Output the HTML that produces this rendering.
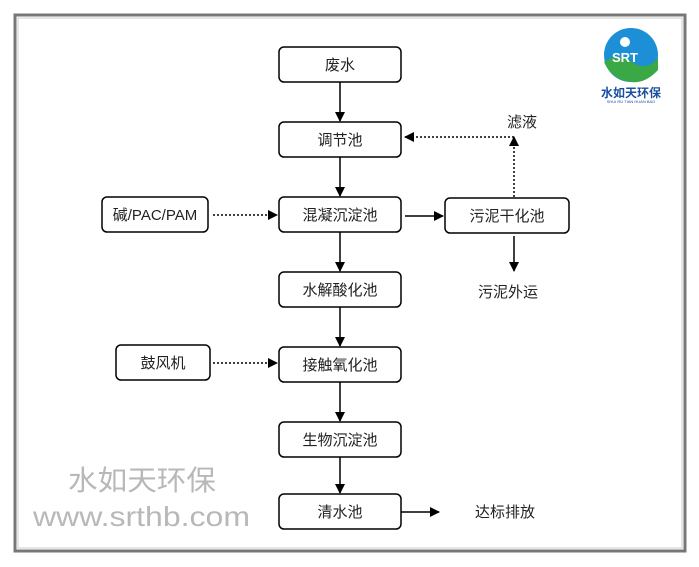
<!DOCTYPE html>
<html><head><meta charset="utf-8"><style>
html,body{margin:0;padding:0;background:#fff;width:699px;height:567px;overflow:hidden}
svg{display:block}
text{font-family:"Liberation Sans","Noto Sans CJK SC",sans-serif;font-size:15px;fill:#222}
</style></head><body>
<svg width="699" height="567" viewBox="0 0 699 567">
<defs>
<marker id="a" markerWidth="10" markerHeight="10" refX="9" refY="5" orient="auto" markerUnits="userSpaceOnUse"><path d="M0,0 L10,5 L0,10 z" fill="#000"/></marker>
</defs>
<rect x="15" y="15" width="670" height="536" fill="none" stroke="#777" stroke-width="3"/>
<rect x="18" y="18" width="664" height="530" fill="none" stroke="#ccc" stroke-width="1"/>
<g fill="#fff" stroke="#000" stroke-width="1.5">
<rect x="279" y="47" width="122" height="35" rx="5"/>
<rect x="279" y="122" width="122" height="35" rx="5"/>
<rect x="279" y="197" width="122" height="35" rx="5"/>
<rect x="279" y="272" width="122" height="35" rx="5"/>
<rect x="279" y="347" width="122" height="35" rx="5"/>
<rect x="279" y="422" width="122" height="35" rx="5"/>
<rect x="279" y="494" width="122" height="35" rx="5"/>
<rect x="102" y="197" width="106" height="35" rx="5"/>
<rect x="116" y="345" width="94" height="35" rx="5"/>
<rect x="445" y="198" width="124" height="35" rx="5"/>
</g>
<g text-anchor="middle">
<text x="340" y="70">废水</text>
<text x="340" y="145">调节池</text>
<text x="340" y="220">混凝沉淀池</text>
<text x="340" y="295">水解酸化池</text>
<text x="340" y="370">接触氧化池</text>
<text x="340" y="445">生物沉淀池</text>
<text x="340" y="517">清水池</text>
<text x="155" y="220">碱/PAC/PAM</text>
<text x="163" y="368">鼓风机</text>
<text x="507" y="221">污泥干化池</text>
<text x="522" y="127">滤液</text>
<text x="508" y="297">污泥外运</text>
<text x="505" y="517">达标排放</text>
</g>
<g stroke="#000" stroke-width="1.5" fill="none">
<line x1="340" y1="82" x2="340" y2="121" marker-end="url(#a)"/>
<line x1="340" y1="157" x2="340" y2="196" marker-end="url(#a)"/>
<line x1="340" y1="232" x2="340" y2="271" marker-end="url(#a)"/>
<line x1="340" y1="307" x2="340" y2="346" marker-end="url(#a)"/>
<line x1="340" y1="382" x2="340" y2="421" marker-end="url(#a)"/>
<line x1="340" y1="457" x2="340" y2="493" marker-end="url(#a)"/>
<line x1="401" y1="512" x2="439" y2="512" marker-end="url(#a)"/>
<line x1="405" y1="216" x2="443" y2="216" marker-end="url(#a)"/>
<line x1="514" y1="236" x2="514" y2="271" marker-end="url(#a)"/>
</g>
<g stroke="#000" stroke-width="1.5" fill="none" stroke-dasharray="2,2">
<line x1="213" y1="215" x2="277" y2="215" marker-end="url(#a)"/>
<line x1="213" y1="363" x2="277" y2="363" marker-end="url(#a)"/>
<line x1="514" y1="197" x2="514" y2="137" marker-end="url(#a)"/>
<line x1="514" y1="137" x2="405" y2="137" marker-end="url(#a)"/>
</g>
<text x="68" y="490" textLength="148" lengthAdjust="spacingAndGlyphs" style="font-size:28px;fill:#b8b8b8">水如天环保</text>
<text x="33" y="526" textLength="217" lengthAdjust="spacingAndGlyphs" style="font-size:28px;fill:#b8b8b8">www.srthb.com</text>
<!-- logo -->
<circle cx="631" cy="55" r="27" fill="#1c8fd6"/>
<path d="M604,62 Q618,52 632,62 T658,58 L658,70 Q645,84 631,82 Q612,80 604,62z" fill="#3aa845"/>
<circle cx="625" cy="42" r="5" fill="#fff"/>
<text x="612" y="62" style="font-size:13px;font-weight:bold;fill:#fff">SRT</text>
<text x="631" y="97" text-anchor="middle" style="font-size:12px;font-weight:bold;fill:#1a4fa0">水如天环保</text>
<text x="631" y="103" text-anchor="middle" style="font-size:4px;fill:#1a4fa0">SHUI RU TIAN HUAN BAO</text>
</svg>
</body></html>
